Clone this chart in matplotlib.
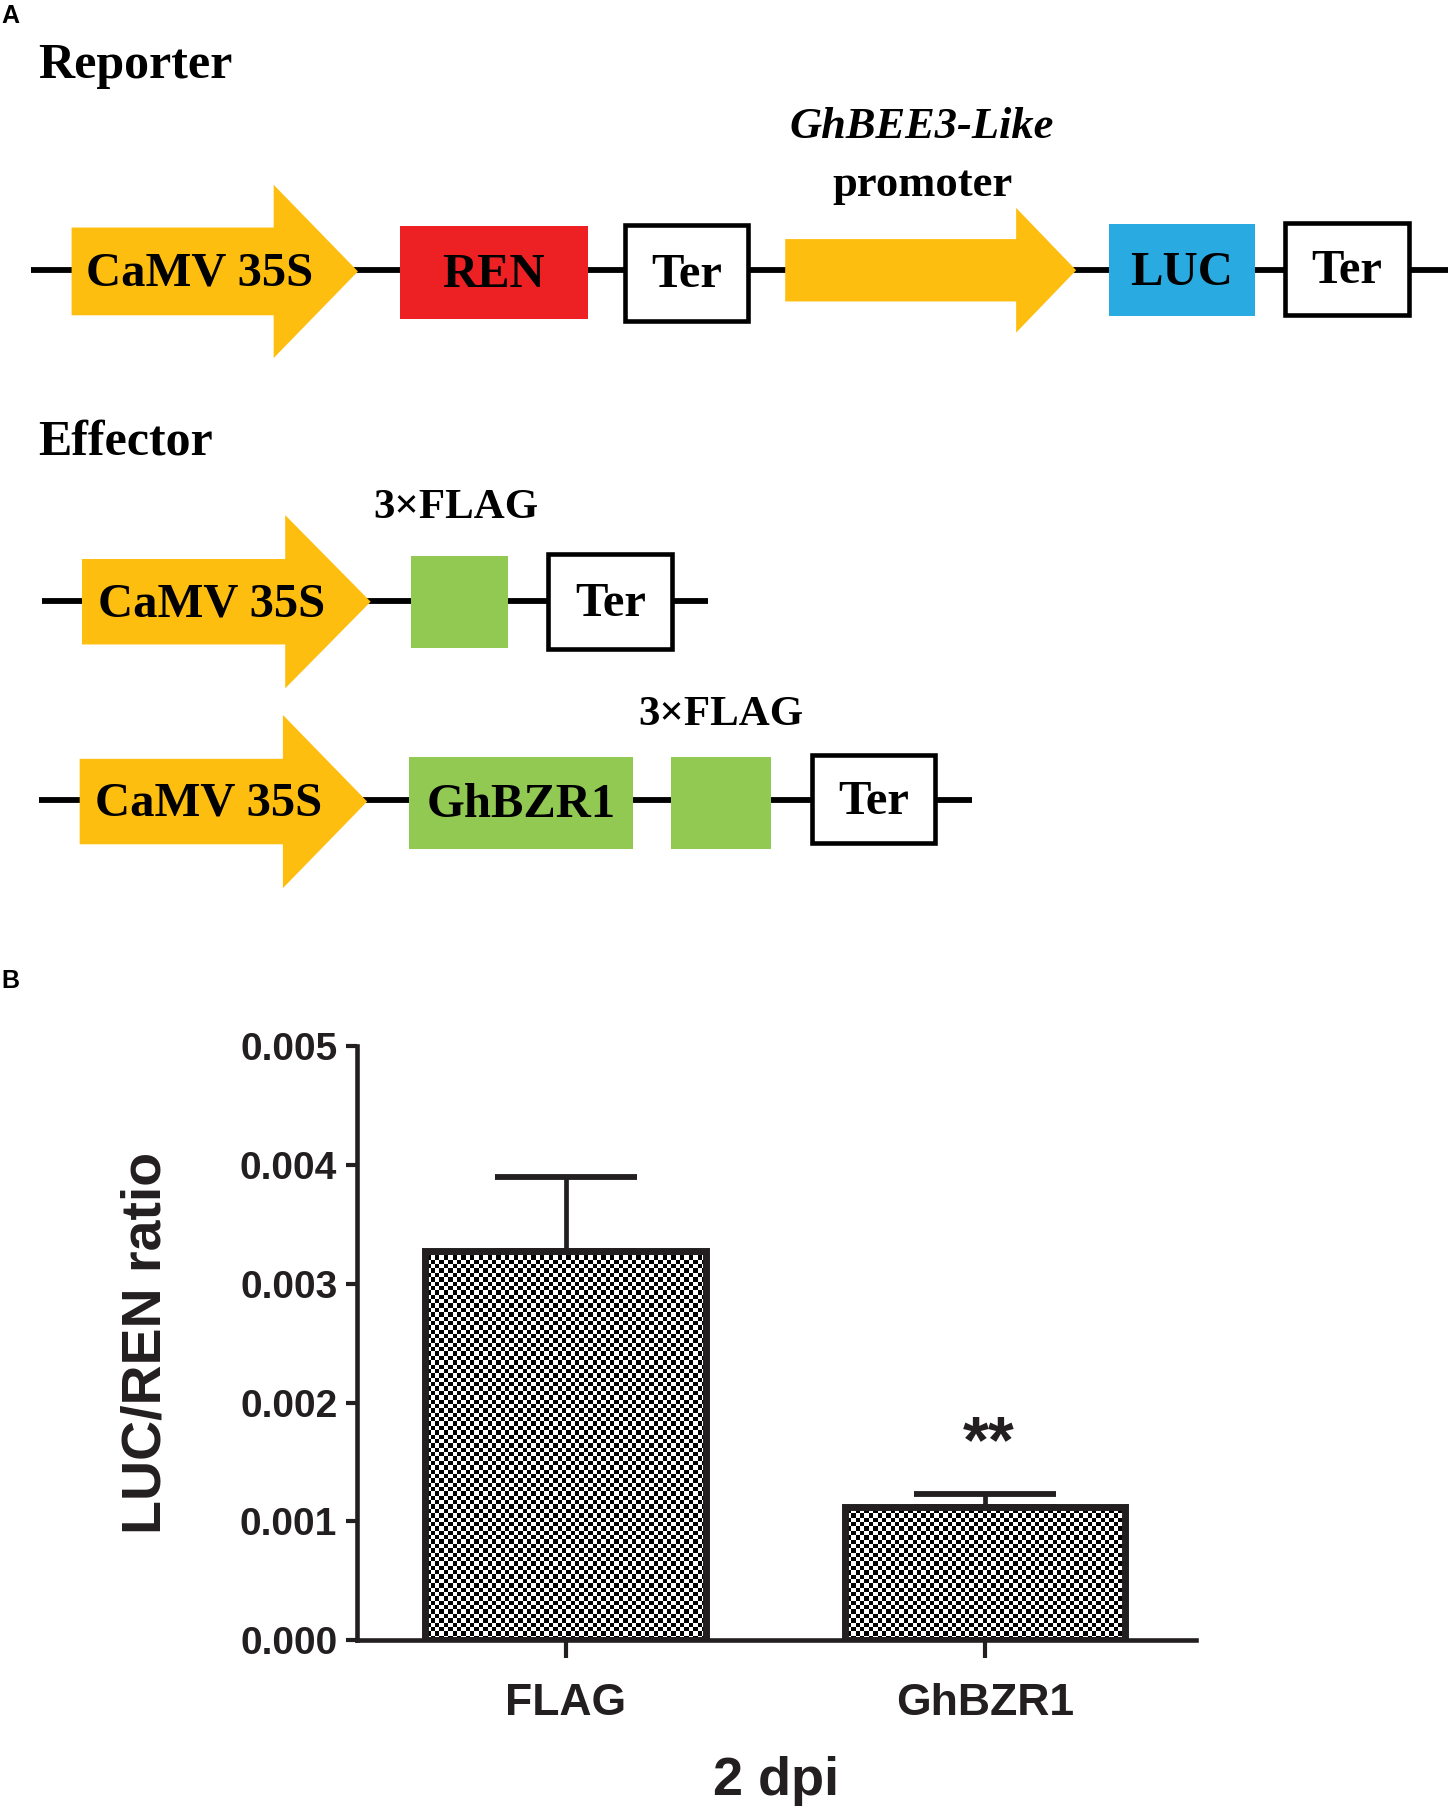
import numpy as np
import matplotlib
matplotlib.use('Agg')
import matplotlib.pyplot as plt
from matplotlib.patches import Polygon, Rectangle

# ---- panel B data ----
groups = ['FLAG', 'GhBZR1']
ratio_mean = [0.00328, 0.00112]
ratio_err = [0.00062, 0.00011]
yticks = [0.000, 0.001, 0.002, 0.003, 0.004, 0.005]
signif = ['', '**']

# ---- panel A layout (units of a 1254 x 1568 canvas) ----
YELLOW = '#FEBE10'
RED = '#ED2024'
BLUE = '#29ABE2'
GREEN = '#92C953'
INK = '#231F20'

# backbone lines: x0, x1, y
backbones = [(27, 1254, 234), (36, 613, 520), (34, 842, 693)]
# arrows: body x0, body x1, head x1, centre y, body half height, head half height, label, label x
arrows = [
    (62, 237, 310, 235, 38, 75, 'CaMV 35S', 173),
    (680, 880, 932, 234, 27, 54, '', 0),
    (71, 247, 321, 521, 37, 75, 'CaMV 35S', 183),
    (69, 245, 318, 694, 37, 75, 'CaMV 35S', 181),
]
# boxes: x0, x1, y0, y1, face, border, label
boxes = [
    (346, 509, 196, 276, RED, False, 'REN'),
    (541, 648, 195, 278, 'white', True, 'Ter'),
    (960, 1087, 194, 274, BLUE, False, 'LUC'),
    (1113, 1220, 193, 273, 'white', True, 'Ter'),
    (356, 440, 481, 561, GREEN, False, ''),
    (475, 582, 480, 562, 'white', True, 'Ter'),
    (354, 548, 655, 735, GREEN, False, 'GhBZR1'),
    (581, 668, 655, 735, GREEN, False, ''),
    (703, 810, 654, 730, 'white', True, 'Ter'),
]

fig = plt.figure(figsize=(14.48, 18.11), dpi=100)
fig.patch.set_facecolor('white')

ax0 = fig.add_axes([0, 0, 1, 1])
ax0.set_xlim(0, 1254)
ax0.set_ylim(1568, 0)
ax0.axis('off')

serif = 'Liberation Serif'
for x0, x1, y in backbones:
    ax0.plot([x0, x1], [y, y], color='black', lw=4.2, solid_capstyle='butt', zorder=1)

for bx0, bx1, hx1, cy, bh, hh, lab, lx in arrows:
    pts = [(bx0, cy - bh), (bx1, cy - bh), (bx1, cy - hh), (hx1, cy),
           (bx1, cy + hh), (bx1, cy + bh), (bx0, cy + bh)]
    ax0.add_patch(Polygon(pts, closed=True, facecolor=YELLOW, edgecolor='none', zorder=2))
    if lab:
        ax0.text(lx, cy + 2, lab, fontsize=35, fontweight='bold', family=serif,
                 ha='center', va='center', color='black', zorder=3)

for x0, x1, y0, y1, face, border, lab in boxes:
    ax0.add_patch(Rectangle((x0, y0), x1 - x0, y1 - y0, facecolor=face,
                            edgecolor='black' if border else 'none',
                            lw=3.3 if border else 0, zorder=2))
    if lab:
        ax0.text((x0 + x1) / 2, (y0 + y1) / 2 + 2, lab, fontsize=35, fontweight='bold',
                 family=serif, ha='center', va='center', color='black', zorder=3)

ax0.text(33, 57, 'Reporter', fontsize=36, fontweight='bold', family=serif, ha='left', va='center')
ax0.text(33, 383, 'Effector', fontsize=36, fontweight='bold', family=serif, ha='left', va='center')
ax0.text(798, 110, 'GhBEE3-Like', fontsize=32, fontweight='bold', style='italic', family=serif,
         ha='center', va='center')
ax0.text(799, 160, 'promoter', fontsize=32, fontweight='bold', family=serif, ha='center', va='center')
ax0.text(395, 440, '3\u00d7FLAG', fontsize=31, fontweight='bold', family=serif, ha='center', va='center')
ax0.text(624, 619, '3\u00d7FLAG', fontsize=31, fontweight='bold', family=serif, ha='center', va='center')
ax0.text(9, 14, 'A', fontsize=18, fontweight='bold', family='Liberation Sans', ha='center', va='center')
ax0.text(9, 849, 'B', fontsize=18, fontweight='bold', family='Liberation Sans', ha='center', va='center')

# ---- panel B ----
sans = 'Liberation Sans'
ax = fig.add_axes([0.2464, 0.0944, 0.5797, 0.3278])
x = np.arange(len(groups))
ax.set_xlim(-0.4986, 1.504)
ax.set_ylim(0, 0.005)

bars = ax.bar(x, ratio_mean, width=0.67, facecolor='none', edgecolor=INK, lw=5, zorder=3)

# checkered fill, clipped to each bar
ncol, nrow = 192, 136
checker = (np.add.outer(np.arange(nrow), np.arange(ncol)) % 2).astype(float)
xl, yl = ax.get_xlim(), ax.get_ylim()
for b in bars:
    im = ax.imshow(checker, cmap='gray', interpolation='nearest', aspect='auto',
                   extent=[xl[0], xl[1], yl[0], yl[1]], zorder=2, vmin=0, vmax=1)
    im.set_clip_path(b)
ax.set_xlim(xl)
ax.set_ylim(yl)

ax.errorbar(x, ratio_mean, yerr=[np.zeros(len(x)), ratio_err], fmt='none', ecolor=INK,
            elinewidth=3.4, capsize=51, capthick=4.2, zorder=1)
for xi, m, e, s in zip(x, ratio_mean, ratio_err, signif):
    if s:
        ax.text(xi + 0.01, m + e + 0.00015, s, fontsize=48, fontweight='bold', family=sans,
                ha='center', va='bottom', color=INK)

for side in ['top', 'right']:
    ax.spines[side].set_visible(False)
for side in ['left', 'bottom']:
    ax.spines[side].set_linewidth(3.3)
    ax.spines[side].set_color(INK)
ax.spines['left'].set_bounds(0, 0.005)

ax.set_yticks(yticks)
ax.set_yticklabels(['%.3f' % v for v in yticks])
ax.set_xticks(x)
ax.set_xticklabels(groups)
ax.tick_params(axis='y', length=8, width=3, color=INK, pad=6, labelsize=28)
ax.tick_params(axis='x', length=13, width=3, color=INK, pad=18, labelsize=32)
for lab in ax.get_yticklabels() + ax.get_xticklabels():
    lab.set_fontweight('bold')
    lab.set_family(sans)
    lab.set_color(INK)

ax.set_ylabel('LUC/REN ratio', fontsize=40, fontweight='bold', family=sans, color=INK)
ax.yaxis.set_label_coords(-0.22, 0.5)
ax.set_xlabel('2 dpi', fontsize=39, fontweight='bold', family=sans, color=INK)
ax.xaxis.set_label_coords(0.499, -0.195)

fig.savefig('out.png', dpi=100, facecolor='white')
